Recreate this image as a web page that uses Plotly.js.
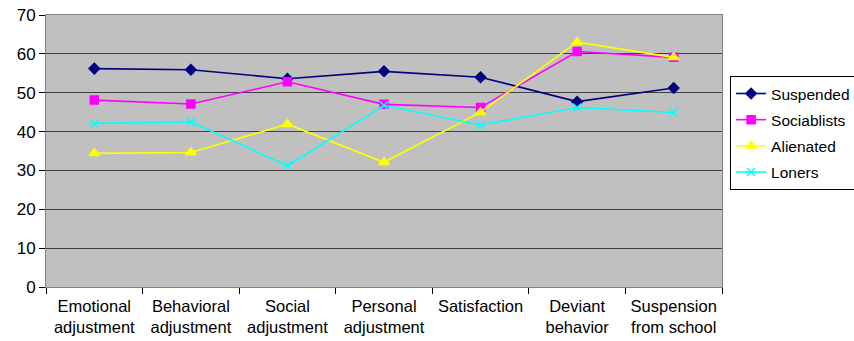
<!DOCTYPE html>
<html><head><meta charset="utf-8">
<script src="https://cdn.plot.ly/plotly-3.0.1.min.js"></script>
<style>html,body{margin:0;padding:0;background:#fff}#chart{width:854px;height:341px}</style>
</head><body><div id="chart"></div>
<script>
const categories = ["Emotional<br>adjustment","Behavioral<br>adjustment","Social<br>adjustment","Personal<br>adjustment","Satisfaction","Deviant<br>behavior","Suspension<br>from school"];
const suspended   = [56.2, 55.9, 53.6, 55.5, 54.0, 47.7, 51.2];
const sociablists = [48.1, 47.1, 52.8, 47.0, 46.2, 60.6, 59.1];
const alienated   = [34.4, 34.6, 41.9, 32.1, 45.0, 63.0, 59.1];
const loners      = [42.1, 42.5, 31.2, 46.7, 41.7, 46.2, 44.9];

const mk = (name, y, color, symbol, size) => ({
  type:'scatter', mode:'lines+markers', name, legendgroup:name, x:categories, y,
  line:{color, width:1.6},
  marker:{color, symbol, size, line:{color, width:1.5}}
});

const data = [
  mk('Suspended', suspended, '#000080', 'diamond', 8),
  mk('Sociablists', sociablists, '#FF00FF', 'square', 8),
  mk('Alienated', alienated, '#FFFF00', 'triangle-up', 9),
  mk('Loners', loners, '#00FFFF', 'x-thin', 8)
];

const layout = {
  width:854, height:341,
  margin:{l:46, r:132, t:15, b:54, autoexpand:false},
  paper_bgcolor:'#ffffff', plot_bgcolor:'#c0c0c0',
  font:{family:'Liberation Sans, Arial, sans-serif', color:'#000', size:17},
  showlegend:true,
  legend:{x:1.012, y:0.776, xanchor:'left', yanchor:'top', bgcolor:'#ffffff',
    bordercolor:'#000', borderwidth:1, font:{size:15.5}, tracegroupgap:3, itemwidth:30},
  xaxis:{type:'category', tickson:'boundaries', ticks:'outside', ticklen:6, tickcolor:'#000',
    showgrid:false, showline:true, linecolor:'#808080', mirror:true, tickfont:{size:16.5},
    tickangle:0, ticklabelstandoff:4, range:[-0.5,6.5], zeroline:false},
  yaxis:{range:[0,70], dtick:10, ticks:'outside', ticklen:6, tickcolor:'#000',
    showgrid:true, gridcolor:'#404040', gridwidth:1, showline:true, linecolor:'#808080', mirror:true,
    tickfont:{size:17}, zeroline:false}
};
Plotly.newPlot('chart', data, layout, {displayModeBar:false, staticPlot:true});
</script></body></html>
